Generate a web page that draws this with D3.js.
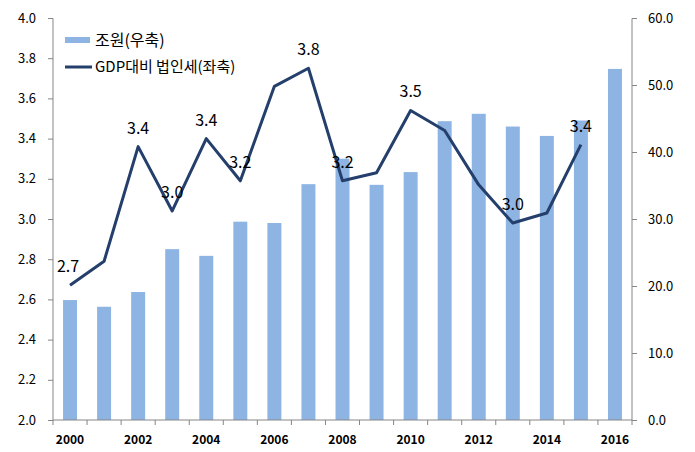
<!DOCTYPE html>
<html>
<head>
<meta charset="utf-8">
<script src="https://cdn.jsdelivr.net/npm/d3@7"></script>
<style>
  body { margin: 0; background: #fff; }
  text { font-family: "Noto Sans CJK KR", "Noto Sans", sans-serif; }
</style>
</head>
<body>
<div id="chart"></div>
<script>
var years = [2000, 2001, 2002, 2003, 2004, 2005, 2006, 2007, 2008,
             2009, 2010, 2011, 2012, 2013, 2014, 2015, 2016]
// 조원 (right axis)
var trillionWon = [17.9, 16.9, 19.1, 25.5, 24.5, 29.6, 29.4, 35.2, 39.0,
                   35.1, 37.0, 44.6, 45.7, 43.8, 42.4, 44.7, 52.4]
// GDP대비 법인세 (left axis), no value for 2016
var taxRatio = [2.67, 2.79, 3.36, 3.04, 3.40, 3.19, 3.66, 3.75, 3.19,
                3.23, 3.54, 3.44, 3.17, 2.98, 3.03, 3.37, null]
var labelYears = [2000, 2002, 2003, 2004, 2005, 2007, 2008, 2010, 2013, 2015]
var leftTicks = [2.0, 2.2, 2.4, 2.6, 2.8, 3.0, 3.2, 3.4, 3.6, 3.8, 4.0]
var rightTicks = [0, 10, 20, 30, 40, 50, 60]
var xTickLabels = [2000, 2002, 2004, 2006, 2008, 2010, 2012, 2014, 2016]

var width = 695, height = 452
var margin = {top: 18, right: 63, bottom: 32, left: 53}

var svg = d3.select("#chart").append("svg")
    .attr("width", width)
    .attr("height", height)

var x = d3.scaleBand()
    .domain(years)
    .range([margin.left, width - margin.right])
    .paddingInner(0.59)
    .paddingOuter(0.295)

var yLeft = d3.scaleLinear().domain([2, 4]).range([height - margin.bottom, margin.top])
var yRight = d3.scaleLinear().domain([0, 60]).range([height - margin.bottom, margin.top])

var axisColor = "#868686"

// bars
svg.selectAll(".bar")
    .data(years)
    .enter()
    .append("rect")
    .attr("class", "bar")
    .attr("x", function(d) { return x(d) })
    .attr("width", x.bandwidth())
    .attr("y", function(d, i) { return yRight(trillionWon[i]) })
    .attr("height", function(d, i) { return yRight(0) - yRight(trillionWon[i]) })
    .attr("fill", "#8DB4E2")

// line
var pts = years.map(function(d, i) { return {year: d, v: taxRatio[i]} })
    .filter(function(p) { return p.v != null })

var line = d3.line()
    .x(function(p) { return x(p.year) + x.bandwidth() / 2 })
    .y(function(p) { return yLeft(p.v) })

svg.append("path")
    .datum(pts)
    .attr("d", line)
    .attr("fill", "none")
    .attr("stroke", "#243F6B")
    .attr("stroke-width", 3)
    .attr("stroke-linejoin", "round")

svg.selectAll(".lbl")
    .data(pts.filter(function(p) { return labelYears.indexOf(p.year) >= 0 }))
    .enter()
    .append("text")
    .attr("class", "lbl")
    .attr("x", function(p) { return x(p.year) + x.bandwidth() / 2 + (p.year == 2000 ? -2 : 0) })
    .attr("y", function(p) { return yLeft(p.v) - 13 })
    .attr("text-anchor", "middle")
    .attr("font-size", 16)
    .attr("fill", "#000")
    .text(function(p) { return p.v.toFixed(1) })

// left axis
var gl = svg.append("g")
    .attr("transform", "translate(" + margin.left + ",0)")
    .call(d3.axisLeft(yLeft).tickValues(leftTicks).tickSize(5).tickPadding(12)
        .tickFormat(d3.format(".1f")))
// right axis
var gr = svg.append("g")
    .attr("transform", "translate(" + (width - margin.right) + ",0)")
    .call(d3.axisRight(yRight).tickValues(rightTicks).tickSize(5).tickPadding(11)
        .tickFormat(d3.format(".1f")))

// x axis: ticks at band boundaries
var xBase = height - margin.bottom
var gx = svg.append("g")
gx.append("line")
    .attr("x1", margin.left).attr("x2", width - margin.right)
    .attr("y1", xBase).attr("y2", xBase)
    .attr("stroke", axisColor)
var step = x.step()
var bounds = d3.range(years.length + 1).map(function(i) { return margin.left + i * step })
gx.selectAll(".xt")
    .data(bounds)
    .enter()
    .append("line")
    .attr("x1", function(d) { return d }).attr("x2", function(d) { return d })
    .attr("y1", xBase).attr("y2", xBase + 5)
    .attr("stroke", axisColor)
gx.selectAll(".xl")
    .data(xTickLabels)
    .enter()
    .append("text")
    .attr("x", function(d) { return x(d) + x.bandwidth() / 2 })
    .attr("y", xBase + 24)
    .attr("text-anchor", "middle")
    .attr("font-size", 12)
    .attr("font-weight", "bold")
    .attr("fill", "#000")
    .text(function(d) { return d })

svg.selectAll(".domain").attr("stroke", axisColor).attr("d", function() {
    return d3.select(this).attr("d").replace(/^M[-\d.]+,/, "M0,").replace(/H[-\d.]+V/, "V").replace(/V([-\d.]+)H[-\d.]+$/, "V$1")
})
svg.selectAll(".tick line").attr("stroke", axisColor)
svg.selectAll(".tick text").attr("font-size", 13).attr("fill", "#000")

// legend
var lg = svg.append("g")
lg.append("rect")
    .attr("x", 65).attr("y", 37).attr("width", 25).attr("height", 6)
    .attr("fill", "#8DB4E2")
lg.append("text")
    .attr("x", 95).attr("y", 46)
    .attr("font-size", 16)
    .text("조원(우축)")
lg.append("line")
    .attr("x1", 65).attr("x2", 92).attr("y1", 67).attr("y2", 67)
    .attr("stroke", "#243F6B").attr("stroke-width", 3)
lg.append("text")
    .attr("x", 95).attr("y", 72)
    .attr("font-size", 15)
    .text("GDP대비 법인세(좌축)")
</script>
</body>
</html>
